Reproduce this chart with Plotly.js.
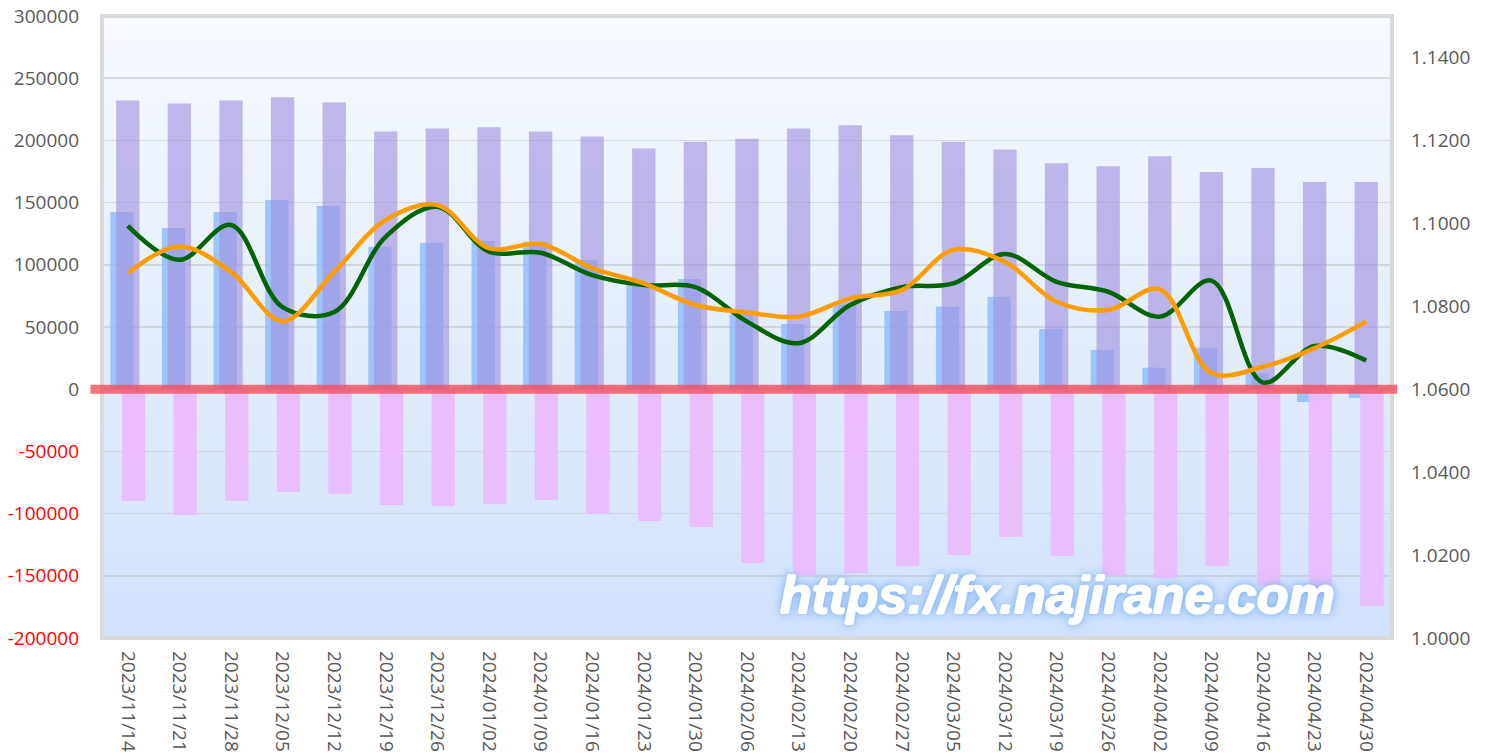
<!DOCTYPE html>
<html>
<head>
<meta charset="utf-8">
<script src="https://cdn.plot.ly/plotly-3.0.1.min.js"></script>
<style>
html,body{margin:0;padding:0;background:#fff;}
#chart{width:1490px;height:756px;}
</style>
</head>
<body>
<div id="chart"></div>
<script>
var categories = ["2023/11/14","2023/11/21","2023/11/28","2023/12/05","2023/12/12","2023/12/19","2023/12/26","2024/01/02","2024/01/09","2024/01/16","2024/01/23","2024/01/30","2024/02/06","2024/02/13","2024/02/20","2024/02/27","2024/03/05","2024/03/12","2024/03/19","2024/03/26","2024/04/02","2024/04/09","2024/04/16","2024/04/23","2024/04/30"];

var netPosition = [142400,129600,142400,152100,147300,114600,117800,119100,118500,103900,84500,88600,60000,52400,68000,62900,66200,74400,48400,31500,17300,33400,12800,-10300,-7100];

var longPosition = [232100,229700,232100,234600,230500,207100,209600,210500,207100,203100,193400,199000,201400,209600,212100,204100,199000,192600,181700,179300,187300,174500,177800,166500,166500];

var shortPosition = [-89900,-101100,-89900,-82600,-84200,-93000,-93800,-92200,-89100,-100300,-105900,-110800,-139700,-150000,-148000,-142100,-133300,-118800,-134100,-150000,-152000,-142100,-158000,-167000,-174300];

var rateGreen = [1.0994,1.0912,1.0996,1.0798,1.0786,1.0968,1.1040,1.0932,1.0929,1.0875,1.0851,1.0846,1.0763,1.0711,1.0803,1.0846,1.0855,1.0926,1.0859,1.0835,1.0775,1.0862,1.0616,1.0704,1.0669];

var rateOrange = [1.0880,1.0944,1.0883,1.0764,1.0883,1.1008,1.1044,1.0940,1.0950,1.0892,1.0855,1.0803,1.0785,1.0775,1.0819,1.0839,1.0936,1.0907,1.0811,1.0791,1.0841,1.0639,1.0654,1.0699,1.0763];

var leftTicks = [300000,250000,200000,150000,100000,50000,0,-50000,-100000,-150000,-200000];
var rightTicks = [1.0,1.02,1.04,1.06,1.08,1.10,1.12,1.14];

var leftTickText = leftTicks.map(function(v){
  return v < 0 ? '<span style="color:#ff0000">' + v + '</span>' : String(v);
});
var rightTickText = rightTicks.map(function(v){ return v.toFixed(4); });

var barW = 0.452;
var traces = [
  {type:'bar', x:categories, y:netPosition, width:barW, offset:-0.339,
   marker:{color:'rgba(140,185,250,0.78)', line:{width:0}}, hoverinfo:'skip'},
  {type:'bar', x:categories, y:longPosition, width:barW, offset:-0.226,
   marker:{color:'rgba(160,144,225,0.62)', line:{width:0}}, hoverinfo:'skip'},
  {type:'bar', x:categories, y:shortPosition, width:barW, offset:-0.114,
   marker:{color:'rgba(234,188,253,0.95)', line:{width:0}}, hoverinfo:'skip'},
  {type:'scatter', mode:'lines', x:categories, y:rateGreen, yaxis:'y2',
   line:{color:'#006400', width:4.5, shape:'spline', smoothing:1}, hoverinfo:'skip'},
  {type:'scatter', mode:'lines', x:categories, y:rateOrange, yaxis:'y2',
   line:{color:'#ff9d00', width:4.5, shape:'spline', smoothing:1}, hoverinfo:'skip'}
];

// background gradient bands
var shapes = [];
var nBands = 60;
var gradTop = [247,250,255], gradBot = [209,225,250];
for (var i = 0; i < nBands; i++) {
  var t = (i + 0.5) / nBands;
  var c = gradTop.map(function(a, k){ return Math.round(a + (gradBot[k] - a) * t); });
  shapes.push({type:'rect', xref:'paper', yref:'paper', x0:0, x1:1,
    y0:1 - (i + 1) / nBands, y1:1 - i / nBands + 0.002,
    fillcolor:'rgb(' + c.join(',') + ')', line:{width:0}, layer:'below'});
}
// plot area border
shapes.push({type:'rect', xref:'paper', yref:'paper', x0:0, x1:1, y0:0, y1:1,
  line:{color:'#d9d9d9', width:4}, fillcolor:'rgba(0,0,0,0)', layer:'above'});
// red zero line
shapes.push({type:'line', xref:'paper', yref:'y', x0:-0.009, x1:1.004, y0:0, y1:0,
  line:{color:'rgba(240,80,95,0.8)', width:9}, layer:'above'});

var tickFont = {family:'Open Sans, DejaVu Sans, sans-serif', size:19, color:'#595959'};

var layout = {
  width:1490, height:756,
  margin:{l:102, r:98, t:16, b:118, pad:0},
  paper_bgcolor:'#ffffff',
  plot_bgcolor:'rgba(0,0,0,0)',
  showlegend:false,
  barmode:'overlay',
  xaxis:{type:'category', tickangle:90, tickfont:tickFont, showgrid:false,
    zeroline:false, showline:false, ticks:'', ticklabelstandoff:12,
    range:[-0.5, categories.length - 0.5]},
  yaxis:{range:[-200000,300000], tickvals:leftTicks, ticktext:leftTickText,
    tickfont:tickFont, showgrid:true, gridcolor:'rgba(190,190,190,0.5)', gridwidth:1.5,
    zeroline:false, showline:false, ticks:'', ticklabelstandoff:22},
  yaxis2:{overlaying:'y', side:'right', range:[1.0,1.15], tickvals:rightTicks,
    ticktext:rightTickText, tickfont:tickFont, showgrid:false, zeroline:false,
    showline:false, ticks:'', ticklabelstandoff:18},
  shapes:shapes,
  annotations:[{
    text:'https://fx.najirane.com', xref:'paper', yref:'paper',
    x:0.741, y:0.069, xanchor:'center', yanchor:'middle', showarrow:false,
    font:{family:'Liberation Sans, Arial, sans-serif', size:52, color:'#ffffff',
      weight:'bold', style:'italic',
      shadow:'1px 0px 0px #ffffff, -1px 0px 0px #ffffff, 0px 1px 0px #ffffff, 0px -1px 0px #ffffff, 0px 0px 7px #6fa8f5, 0px 0px 14px #8dbcf8'}
  }]
};

Plotly.newPlot('chart', traces, layout, {displayModeBar:false, staticPlot:true});
</script>
</body>
</html>
